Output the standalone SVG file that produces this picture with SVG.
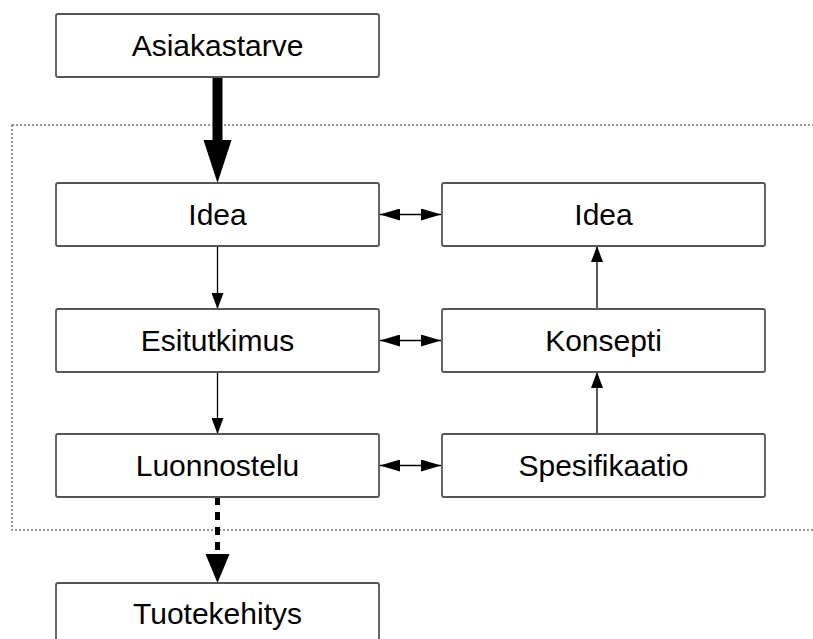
<svg xmlns="http://www.w3.org/2000/svg" width="813" height="639" viewBox="0 0 813 639">
<style>
.box{fill:#fff;stroke:#555;stroke-width:1.8}
.lbl{font-family:"Liberation Sans",Arial,sans-serif;font-size:30px;fill:#000;text-anchor:middle}
.thin{stroke:#000;stroke-width:1.3;fill:none}
</style>
<defs>
<marker id="ah" viewBox="0 0 20 12" refX="20" refY="6" markerWidth="20" markerHeight="12" markerUnits="userSpaceOnUse" orient="auto-start-reverse">
<path d="M0,0 L20,6 L0,12 Z" fill="#000"/>
</marker>
<marker id="ahv" viewBox="0 0 16 12" refX="16" refY="6" markerWidth="16" markerHeight="12" markerUnits="userSpaceOnUse" orient="auto">
<path d="M0,0 L16,6 L0,12 Z" fill="#000"/>
</marker>
</defs>
<rect x="12" y="125" width="820" height="405" fill="none" stroke="#777" stroke-width="1.5" stroke-dasharray="2 2"/>
<g id="connectors">
<line x1="217.5" y1="77" x2="217.5" y2="142" stroke="#000" stroke-width="10"/>
<path d="M203.5,140 L231.5,140 L217.5,183 Z" fill="#000"/>
<line class="thin" x1="217.5" y1="247" x2="217.5" y2="309" marker-end="url(#ahv)"/>
<line class="thin" x1="217.5" y1="372" x2="217.5" y2="434" marker-end="url(#ahv)"/>
<line class="thin" x1="597" y1="309" x2="597" y2="246" marker-end="url(#ahv)"/>
<line class="thin" x1="597" y1="434" x2="597" y2="372" marker-end="url(#ahv)"/>
<line class="thin" x1="380" y1="214.5" x2="441" y2="214.5" marker-start="url(#ah)" marker-end="url(#ah)"/>
<line class="thin" x1="380" y1="340.5" x2="441" y2="340.5" marker-start="url(#ah)" marker-end="url(#ah)"/>
<line class="thin" x1="380" y1="465.5" x2="441" y2="465.5" marker-start="url(#ah)" marker-end="url(#ah)"/>
<line x1="217.5" y1="497" x2="217.5" y2="556" stroke="#000" stroke-width="5" stroke-dasharray="8 7"/>
<path d="M205.5,554 L229.5,554 L217.5,583 Z" fill="#000"/>
</g>
<g id="asiakastarve"><rect class="box" x="56" y="14" width="323" height="63" rx="2"/><text class="lbl" x="217.5" y="56">Asiakastarve</text></g>
<g id="idea1"><rect class="box" x="56" y="183" width="323" height="63" rx="2"/><text class="lbl" x="217.5" y="225">Idea</text></g>
<g id="esitutkimus"><rect class="box" x="56" y="309" width="323" height="63" rx="2"/><text class="lbl" x="217.5" y="351">Esitutkimus</text></g>
<g id="luonnostelu"><rect class="box" x="56" y="434" width="323" height="63" rx="2"/><text class="lbl" x="217.5" y="476">Luonnostelu</text></g>
<g id="idea2"><rect class="box" x="442" y="183" width="323" height="63" rx="2"/><text class="lbl" x="603.5" y="225">Idea</text></g>
<g id="konsepti"><rect class="box" x="442" y="309" width="323" height="63" rx="2"/><text class="lbl" x="603.5" y="351">Konsepti</text></g>
<g id="spesifikaatio"><rect class="box" x="442" y="434" width="323" height="63" rx="2"/><text class="lbl" x="603.5" y="476">Spesifikaatio</text></g>
<g id="tuotekehitys"><rect class="box" x="56" y="583" width="323" height="70" rx="2"/><text class="lbl" x="217.5" y="624">Tuotekehitys</text></g>
</svg>
